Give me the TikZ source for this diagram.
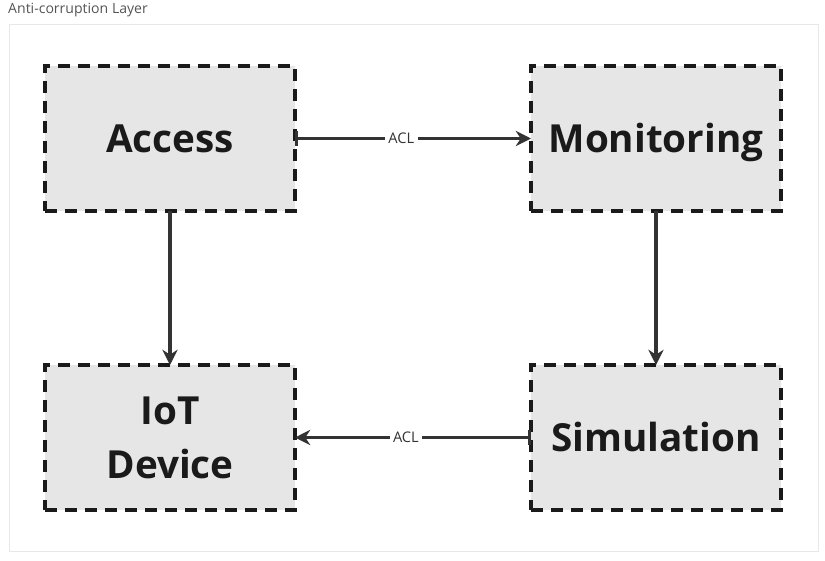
\documentclass[tikz,border=0pt]{standalone}
\usepackage{fontspec}
\setmainfont{Open Sans}
\definecolor{AclFill}{HTML}{E6E6E6}
\definecolor{AclBorder}{HTML}{1A1A1A}
\definecolor{AclArrow}{HTML}{333333}
\definecolor{AclFrame}{HTML}{E8E8E8}
\definecolor{AclTitle}{HTML}{555555}
\usetikzlibrary{arrows.meta, positioning}
\tikzset{
    % Dashed context boxes
    component/.style={
        rectangle,
        draw=AclBorder,
        fill=AclFill,
        line width=3.2pt,
        dash pattern=on 0.36cm off 0.24cm,
        minimum width=7.5cm,
        minimum height=4.35cm,
        inner sep=0pt,
        outer sep=0pt,
        align=center,
        font=\fontsize{33}{46}\selectfont\bfseries,
        text=AclBorder
    },
    single line/.style={
        text height=23.5pt,
        text depth=0pt
    },
    arrow style/.style={
        -{Stealth[length=13pt,width=13pt]},
        line width=2.8pt,
        AclArrow
    },
    acl arrow style/.style={
        {Bar[width=12pt,line width=2.8pt]}-{Stealth[length=13pt,width=13pt]},
        line width=2.8pt,
        AclArrow
    },
    acl label/.style={
        fill=white,
        inner sep=3pt,
        font=\fontsize{12.5}{14}\selectfont,
        text=AclArrow
    }
}

\begin{document}
\begin{tikzpicture}[x=0.03cm, y=-0.03cm]
        \useasboundingbox (0,0) rectangle (825,560);

        % Frame and title
        \draw[AclFrame, line width=0.8pt] (9,24) rectangle (818,551);
        \node[anchor=west, inner sep=0pt, font=\fontsize{12}{14}\selectfont, text=AclTitle] (title) at (8,10) {Anti-corruption Layer};

        % Contexts
        \node[component, single line] (access) at (170, 138.5) {Access};
        \node[component, single line] (monitoring) at (656, 138.5) {Monitoring};
        \node[component] (iot) at (170, 437.5) {IoT\\Device};
        \node[component, single line] (simulation) at (656, 437.5) {Simulation};

        % Relations
        \draw[acl arrow style] (access.east) -- node[acl label, pos=0.45] (aclTop) {ACL} (monitoring.west);
        \draw[acl arrow style] (simulation.west) -- node[acl label, pos=0.53] (aclBottom) {ACL} (iot.east);
        \draw[arrow style] (access) -- (iot);
        \draw[arrow style] (monitoring) -- (simulation);
    \end{tikzpicture}
\end{document}
